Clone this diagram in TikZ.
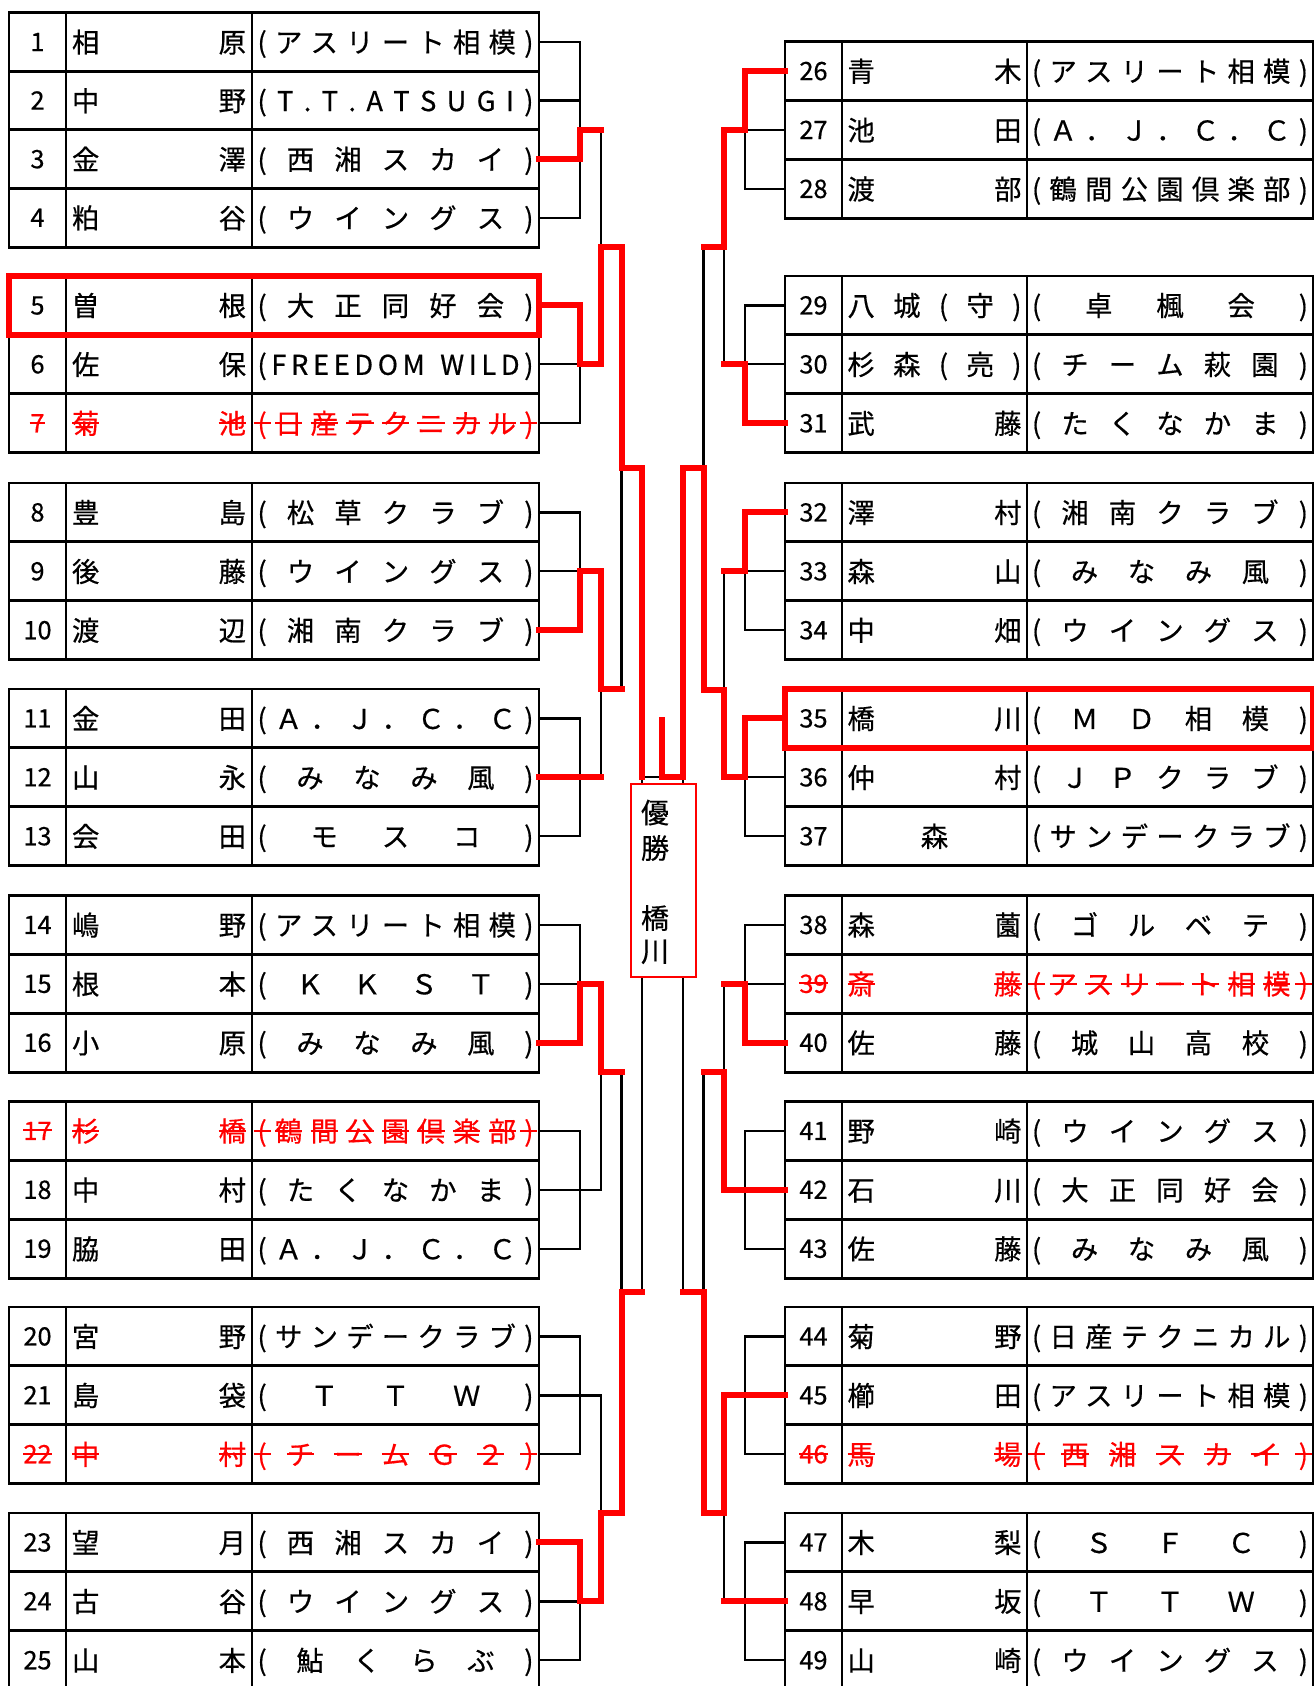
\documentclass[tikz,border=0pt]{standalone}
\usepackage{fontspec}
\setmainfont{Noto Sans CJK JP}[FakeBold=0.5]
\definecolor{rd}{RGB}{255,0,0}

\ExplSyntaxOn
\bool_new:N \l_sp_first_bool
\NewDocumentCommand \spread { m m m }
  {
    \makebox[#1][s]
      {
        \bool_set_true:N \l_sp_first_bool
        \tl_map_inline:nn {#3}
          {
            \bool_if:NTF \l_sp_first_bool
              { \bool_set_false:N \l_sp_first_bool }
              { \hfill }
            #2 {##1}
          }
      }
  }
\ExplSyntaxOff

\newlength\strkw
\newcommand\strk[1]{\setbox0=\hbox{#1}\strkw=\wd0\relax
  \ifdim\strkw<0.62em\relax\strkw=0.62em\relax\fi
  \rlap{\hbox to \wd0{\hss\rule[0.34em]{\strkw}{1.5pt}\hss}}\box0}
\newcommand\keepit[1]{#1}
\let\rowfmt\keepit

\tikzset{
  tbl/.style={line width=2.2pt},
  br/.style={line width=1.7pt,line cap=rect},
  win/.style={draw=rd,line width=4.5pt,line cap=rect},
  rowcol/.style={text=black},
  txt/.style={anchor=base,inner sep=0pt,font=\fontsize{20.5}{24}\selectfont,rowcol},
  numt/.style={anchor=base,inner sep=0pt,font=\fontsize{19}{22}\selectfont,rowcol},
  ctxt/.style={anchor=base,inner sep=0pt,font=\fontsize{21}{25}\selectfont},
}

% #1 num, #2 edge x, #3 num x, #4 name x, #5 club x, #6 y, #7 name, #8 club
\newcommand\rowtext[8]{%
  \coordinate (e#1) at ({#2},{#6});
  \node[numt] (num#1) at ({#3},{#6+9}) {\rowfmt{#1}};
  \node[txt] (nm#1) at ({#4},{#6+10.5}) {\spread{130.5pt}{\rowfmt}{#7}};
  \node[txt] (cl#1) at ({#5},{#6+10.5}) {\spread{207pt}{\rowfmt}{#8}};
}
\newcommand\Lr[4]{\rowtext{#1}{539}{37.5}{159}{395.5}{#2}{#3}{#4}}
\newcommand\Rr[4]{\rowtext{#1}{785}{813.5}{934.5}{1170}{#2}{#3}{#4}}
\newcommand\Lx[4]{\begingroup\tikzset{rowcol/.style={text=rd}}\let\rowfmt\strk\Lr{#1}{#2}{#3}{#4}\endgroup}
\newcommand\Rx[4]{\begingroup\tikzset{rowcol/.style={text=rd}}\let\rowfmt\strk\Rr{#1}{#2}{#3}{#4}\endgroup}

% x0 x1 x2 x3 top n H
\newcommand\grid[7]{%
  \pgfmathsetmacro\gb{#5+#6*#7}
  \draw[tbl] (#1,#5) rectangle (#4,\gb);
  \draw[tbl] (#2,#5) -- (#2,\gb) (#3,#5) -- (#3,\gb);
  \foreach \k in {1,...,#6}{\ifnum\k<#6 \draw[tbl] (#1,{#5+\k*#7}) -- (#4,{#5+\k*#7});\fi}
}
\newcommand\grpL[3]{\draw[br] (e#1) -- (L1|-e#1) (e#3) -- (L1|-e#3) (e#2) -- (L2|-e#2) (L1|-e#1) -- (L1|-e#3);}
\newcommand\grpR[3]{\draw[br] (e#1) -- (R1|-e#1) (e#3) -- (R1|-e#3) (e#2) -- (R2|-e#2) (R1|-e#1) -- (R1|-e#3);}

\begin{document}
\begin{tikzpicture}[x=0.75pt,y=-0.75pt]
\useasboundingbox (0,0) rectangle (1314,1686);
\fill[white] (0,0) rectangle (1314,1686);

% tables
\grid{9}{66}{252}{539}{12.7}{4}{58.6}
\foreach \t in {276,483,689,895.5,1101.5,1307,1513}{\grid{9}{66}{252}{539}{\t}{3}{58.9}}
\foreach \t in {41.7,276,483,689,895.5,1101.5,1307,1513}{\grid{785}{842}{1027}{1313}{\t}{3}{58.9}}

% left rows
\Lr{1}{42.0}{相原}{(アスリート相模)}
\Lr{2}{100.6}{中野}{(T.T.ATSUGI)}
\Lr{3}{159.2}{金澤}{(西湘スカイ)}
\Lr{4}{217.8}{粕谷}{(ウイングス)}
\Lr{5}{305.45}{曽根}{(大正同好会)}
\Lr{6}{364.35}{佐保}{(FREEDOM~WILD)}
\Lx{7}{423.25}{菊池}{(日産テクニカル)}
\Lr{8}{512.45}{豊島}{(松草クラブ)}
\Lr{9}{571.35}{後藤}{(ウイングス)}
\Lr{10}{630.25}{渡辺}{(湘南クラブ)}
\Lr{11}{718.45}{金田}{(Ａ．Ｊ．Ｃ．Ｃ)}
\Lr{12}{777.35}{山永}{(みなみ風)}
\Lr{13}{836.25}{会田}{(モスコ)}
\Lr{14}{924.95}{嶋野}{(アスリート相模)}
\Lr{15}{983.85}{根本}{(ＫＫＳＴ)}
\Lr{16}{1042.75}{小原}{(みなみ風)}
\Lx{17}{1130.95}{杉橋}{(鶴間公園倶楽部)}
\Lr{18}{1189.85}{中村}{(たくなかま)}
\Lr{19}{1248.75}{脇田}{(Ａ．Ｊ．Ｃ．Ｃ)}
\Lr{20}{1336.45}{宮野}{(サンデークラブ)}
\Lr{21}{1395.35}{島袋}{(ＴＴＷ)}
\Lx{22}{1454.25}{中村}{(チームＧ２)}
\Lr{23}{1542.45}{望月}{(西湘スカイ)}
\Lr{24}{1601.35}{古谷}{(ウイングス)}
\Lr{25}{1660.25}{山本}{(鮎くらぶ)}

% right rows
\Rr{26}{71.15}{青木}{(アスリート相模)}
\Rr{27}{130.05}{池田}{(Ａ．Ｊ．Ｃ．Ｃ)}
\Rr{28}{188.95}{渡部}{(鶴間公園倶楽部)}
\Rr{29}{305.45}{八城(守)}{(卓楓会)}
\Rr{30}{364.35}{杉森(亮)}{(チーム萩園)}
\Rr{31}{423.25}{武藤}{(たくなかま)}
\Rr{32}{512.45}{澤村}{(湘南クラブ)}
\Rr{33}{571.35}{森山}{(みなみ風)}
\Rr{34}{630.25}{中畑}{(ウイングス)}
\Rr{35}{718.45}{橋川}{(ＭＤ相模)}
\Rr{36}{777.35}{仲村}{(ＪＰクラブ)}
\Rr{37}{836.25}{{\hfill 森\hfill}}{(サンデークラブ)}
\Rr{38}{924.95}{森薗}{(ゴルベテ)}
\Rx{39}{983.85}{斎藤}{(アスリート相模)}
\Rr{40}{1042.75}{佐藤}{(城山高校)}
\Rr{41}{1130.95}{野崎}{(ウイングス)}
\Rr{42}{1189.85}{石川}{(大正同好会)}
\Rr{43}{1248.75}{佐藤}{(みなみ風)}
\Rr{44}{1336.45}{菊野}{(日産テクニカル)}
\Rr{45}{1395.35}{櫛田}{(アスリート相模)}
\Rx{46}{1454.25}{馬場}{(西湘スカイ)}
\Rr{47}{1542.45}{木梨}{(ＳＦＣ)}
\Rr{48}{1601.35}{早坂}{(ＴＴＷ)}
\Rr{49}{1660.25}{山崎}{(ウイングス)}

% bracket columns and junction levels
\coordinate (L1) at (580,0); \coordinate (L2) at (601,0); \coordinate (L3) at (621.5,0);
\coordinate (L4) at (642,0); \coordinate (C) at (662,0); \coordinate (R4) at (683,0);
\coordinate (R3) at (703.5,0); \coordinate (R2) at (724,0); \coordinate (R1) at (745,0);
\coordinate (jA) at (0,130); \coordinate (j12) at (0,247); \coordinate (j34) at (0,689);
\coordinate (k34) at (0,690); \coordinate (jT) at (0,468); \coordinate (j56) at (0,1072);
\coordinate (j78) at (0,1513); \coordinate (jB) at (0,1292); \coordinate (jF) at (0,777.35);
\coordinate (jS) at (0,720);

% black bracket, left
\draw[br] (e1) -- (L1|-e1) (e2) -- (L1|-e2) (e3) -- (L1|-e3) (e4) -- (L1|-e4)
  (L1|-e1) -- (L1|-e4) (L1|-jA) -- (L2|-jA);
\grpL{5}{6}{7}\grpL{8}{9}{10}\grpL{11}{12}{13}\grpL{14}{15}{16}
\grpL{17}{18}{19}\grpL{20}{21}{22}\grpL{23}{24}{25}
\draw[br] (L2|-jA) -- (L2|-e6) (L2|-j12) -- (L3|-j12)
  (L2|-e9) -- (L2|-e12) (L2|-j34) -- (L3|-j34)
  (L2|-e15) -- (L2|-e18) (L2|-j56) -- (L3|-j56)
  (L2|-e21) -- (L2|-e24) (L2|-j78) -- (L3|-j78);
\draw[br] (L3|-j12) -- (L3|-j34) (L3|-jT) -- (L4|-jT)
  (L3|-j56) -- (L3|-j78) (L3|-jB) -- (L4|-jB);
\draw[br] (L4|-jT) -- (L4|-jB) (L4|-jF) -- (R4|-jF) (R4|-jT) -- (R4|-jB);
% black bracket, right
\grpR{26}{27}{28}\grpR{29}{30}{31}\grpR{32}{33}{34}\grpR{35}{36}{37}
\grpR{38}{39}{40}\grpR{41}{42}{43}\grpR{44}{45}{46}\grpR{47}{48}{49}
\draw[br] (R2|-e27) -- (R2|-e30) (R2|-j12) -- (R3|-j12)
  (R2|-e33) -- (R2|-e36) (R2|-k34) -- (R3|-k34)
  (R2|-e39) -- (R2|-e42) (R2|-j56) -- (R3|-j56)
  (R2|-e45) -- (R2|-e48) (R2|-j78) -- (R3|-j78);
\draw[br] (R3|-j12) -- (R3|-k34) (R3|-jT) -- (R4|-jT)
  (R3|-j56) -- (R3|-j78) (R3|-jB) -- (R4|-jB);

% winners (red)
\draw[win] (e3) -| (L1|-jA) -- (L2|-jA);
\draw[win] (e5) -| (L1|-e6) -- (L2|-e6) |- (L3|-j12) |- (L4|-jT) -- (L4|-jF);
\draw[win] (e10) -| (L1|-e9) -- (L2|-e9) |- (L3|-j34);
\draw[win] (e12) -- (L2|-e12);
\draw[win] (e16) -| (L1|-e15) -- (L2|-e15) |- (L3|-j56);
\draw[win] (e23) -| (L1|-e24) -- (L2|-e24) |- (L3|-j78) |- (L4|-jB);
\draw[win] (e26) -| (R1|-e27) -- (R2|-e27) |- (R3|-j12);
\draw[win] (e31) -| (R1|-e30) -- (R2|-e30);
\draw[win] (e32) -| (R1|-e33) -- (R2|-e33);
\draw[win] (e35) -| (R1|-e36) -- (R2|-e36) |- (R3|-k34) |- (R4|-jT) -- (R4|-jF) -- (C|-jF) -- (C|-jS);
\draw[win] (e40) -| (R1|-e39) -- (R2|-e39);
\draw[win] (e42) -- (R2|-e42) |- (R3|-j56);
\draw[win] (e45) -- (R2|-e45) |- (R3|-j78) |- (R4|-jB);
\draw[win] (e48) -- (R2|-e48);

% highlighted rows
\draw[rd,line width=4.5pt] (9,276) rectangle (539,334.9);
\draw[rd,line width=4.5pt] (785,689) rectangle (1313,747.9);

% champion box
\node[draw=rd,line width=0.9pt,fill=white,minimum width=48.75pt,minimum height=144.75pt,inner sep=0pt] (champ) at (663.5,880.5) {};
\node[ctxt] (w1) at (655,{812.5+10.6}) {優};
\node[ctxt] (w2) at (655,{848+10.6}) {勝};
\node[ctxt] (w3) at (655,{918+10.6}) {橋};
\node[ctxt] (w4) at (655,{951+10.6}) {川};
\end{tikzpicture}
\end{document}
